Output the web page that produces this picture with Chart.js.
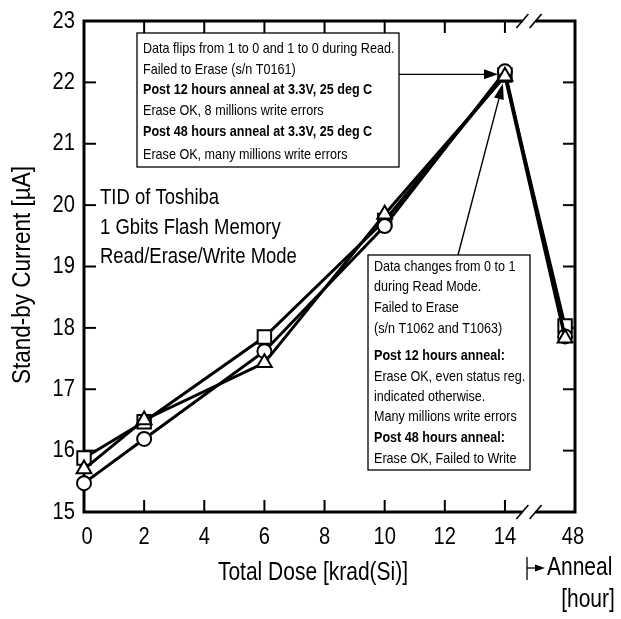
<!DOCTYPE html>
<html>
<head>
<meta charset="utf-8">
<script src="https://cdn.jsdelivr.net/npm/chart.js@4.4.1/dist/chart.umd.min.js"></script>
<style>
  html, body { margin: 0; padding: 0; background: #fff; }
  #wrap { width: 621px; height: 619px; position: relative; }
</style>
</head>
<body>
<div id="wrap"><canvas id="c" width="621" height="619"></canvas></div>
<script>
// ---- data ----
const doseKrad = [0, 2, 6, 10, 14];
const annealHours = [48];
const squareCurrent   = [15.88, 16.47, 17.85, 19.75, 22.12];
const circleCurrent   = [15.47, 16.19, 17.62, 19.66, 22.18];
const triangleCurrent = [15.70, 16.50, 17.43, 19.85, 22.10];
const squareAnneal   = [18.03];
const circleAnneal   = [17.86];
const triangleAnneal = [17.83];
const doseTicks = [0, 2, 4, 6, 8, 10, 12, 14];
const currentTicks = [15, 16, 17, 18, 19, 20, 21, 22, 23];

const box1Lines = [
  ["Data flips from 1 to 0 and 1 to 0 during Read.", false],
  ["Failed to Erase (s/n T0161)", false],
  ["Post 12 hours anneal at 3.3V, 25 deg C", true],
  ["Erase OK, 8 millions write errors", false],
  ["Post 48 hours anneal at 3.3V, 25 deg C", true],
  ["Erase OK, many millions write errors", false]
];
const box2Lines = [
  ["Data changes from 0 to 1", false],
  ["during Read Mode.", false],
  ["Failed to Erase", false],
  ["(s/n T1062 and T1063)", false],
  ["Post 12 hours anneal:", true],
  ["Erase OK, even status reg.", false],
  ["indicated otherwise.", false],
  ["Many millions write errors", false],
  ["Post 48 hours anneal:", true],
  ["Erase OK, Failed to Write", false]
];
const titleLines = ["TID of Toshiba", "1 Gbits Flash Memory", "Read/Erase/Write Mode"];

// ---- layout constants ----
const ANNEAL_X = 16.0;      // position of the anneal point on the broken axis
const X_MAX = 16.33;
const FONT = '"Liberation Sans", Arial, sans-serif';
const NARROW = 0.84;        // horizontal squeeze to mimic a narrow typeface

function ntext(ctx, str, x, y, align, font, sx) {
  ctx.save();
  ctx.font = font;
  ctx.textAlign = align;
  ctx.textBaseline = 'middle';
  ctx.translate(x, y);
  ctx.scale(sx || NARROW, 1);
  ctx.fillText(str, 0, 0);
  ctx.restore();
}

function series(vals, anneal) {
  const pts = doseKrad.map((d, i) => ({ x: d, y: vals[i] }));
  annealHours.forEach((h, i) => pts.push({ x: ANNEAL_X, y: anneal[i] }));
  return pts;
}

function arrow(ctx, x1, y1, x2, y2, lw, hl, hw) {
  const a = Math.atan2(y2 - y1, x2 - x1);
  const bx = x2 - hl * Math.cos(a), by = y2 - hl * Math.sin(a);
  ctx.lineWidth = lw;
  ctx.beginPath(); ctx.moveTo(x1, y1); ctx.lineTo(bx, by); ctx.stroke();
  ctx.beginPath();
  ctx.moveTo(x2, y2);
  ctx.lineTo(bx + hw * Math.sin(a), by - hw * Math.cos(a));
  ctx.lineTo(bx - hw * Math.sin(a), by + hw * Math.cos(a));
  ctx.closePath(); ctx.fill();
}

const framePlugin = {
  id: 'frame',
  beforeDatasetsDraw(chart) {
    const { ctx, chartArea: a, scales } = chart;
    ctx.save();
    ctx.strokeStyle = '#000';
    ctx.fillStyle = '#000';
    ctx.lineWidth = 2;
    // inward ticks
    currentTicks.slice(1, -1).forEach(v => {
      const y = scales.y.getPixelForValue(v);
      ctx.beginPath(); ctx.moveTo(a.left, y); ctx.lineTo(a.left + 12, y); ctx.stroke();
      ctx.beginPath(); ctx.moveTo(a.right, y); ctx.lineTo(a.right - 12, y); ctx.stroke();
    });
    doseTicks.slice(1).forEach(v => {
      const x = scales.x.getPixelForValue(v);
      ctx.beginPath(); ctx.moveTo(x, a.bottom); ctx.lineTo(x, a.bottom - 12); ctx.stroke();
      ctx.beginPath(); ctx.moveTo(x, a.top); ctx.lineTo(x, a.top + 12); ctx.stroke();
    });
    // tick labels
    const tf = '24px ' + FONT;
    currentTicks.forEach(v => ntext(ctx, String(v), a.left - 9, scales.y.getPixelForValue(v), 'right', tf));
    doseTicks.forEach(v => ntext(ctx, String(v), scales.x.getPixelForValue(v) + (v === 0 ? 3 : 0), a.bottom + 25, 'center', tf));
    ntext(ctx, String(annealHours[0]), a.right - 2, a.bottom + 25, 'center', tf);
    // frame
    ctx.lineWidth = 3;
    ctx.strokeRect(a.left, a.top, a.right - a.left, a.bottom - a.top);
    // axis breaks
    const bx1 = scales.x.getPixelForValue(14.58), bx2 = scales.x.getPixelForValue(15.02);
    [a.top, a.bottom].forEach(y => {
      ctx.fillStyle = '#fff';
      ctx.fillRect(bx1, y - 3, bx2 - bx1, 6);
      ctx.strokeStyle = '#000';
      ctx.lineWidth = 1.6;
      [bx1, bx2].forEach(x => {
        ctx.beginPath();
        ctx.moveTo(x - 6, y + 7); ctx.lineTo(x + 6, y - 7); ctx.stroke();
      });
    });
    ctx.restore();
  },
  afterDraw(chart) {
    const { ctx, scales } = chart;
    ctx.save();
    ctx.fillStyle = '#000';
    ctx.strokeStyle = '#000';
    // axis titles
    const af = '25px ' + FONT;
    ntext(ctx, 'Total Dose [krad(Si)]', 313, 573, 'center', af);
    ctx.save();
    ctx.translate(23, 275); ctx.rotate(-Math.PI / 2);
    ntext(ctx, 'Stand-by Current [\u00B5A]', 0, 0, 'center', af, 0.9);
    ctx.restore();
    // anneal label
    ntext(ctx, 'Anneal', 547, 568, 'left', af);
    ntext(ctx, '[hour]', 588, 600, 'center', af);
    ctx.lineWidth = 1.3;
    ctx.beginPath(); ctx.moveTo(527, 557); ctx.lineTo(527, 580); ctx.stroke();
    arrow(ctx, 527, 568, 545, 568, 1.3, 10, 3.5);
    // title
    titleLines.forEach((t, i) => ntext(ctx, t, 100, 198 + i * 29.5, 'left', '22px ' + FONT));
    // boxes
    const drawBox = (x, y, w, h, lines, ys) => {
      ctx.fillStyle = '#fff';
      ctx.fillRect(x, y, w, h);
      ctx.fillStyle = '#000';
      ctx.lineWidth = 1.3;
      ctx.strokeRect(x, y, w, h);
      lines.forEach((l, i) => ntext(ctx, l[0], x + 6, ys[i], 'left', (l[1] ? 'bold ' : '') + '15px ' + FONT));
    };
    drawBox(137, 33, 262, 134, box1Lines, [49, 70, 90, 111, 132, 155]);
    drawBox(368, 255, 162, 215, box2Lines, [267, 287, 308, 329, 356, 377, 397, 417, 438, 459]);
    // arrows to the 14 krad point
    const px = scales.x.getPixelForValue(14);
    const py = scales.y.getPixelForValue(circleCurrent[4]);
    arrow(ctx, 399, py + 3, px - 7, py + 3, 1.4, 14, 5);
    arrow(ctx, 458, 255, px - 2, py + 12, 1.4, 16, 5);
    ctx.restore();
  }
};

const common = {
  showLine: true,
  clip: false,
  borderColor: '#000',
  borderWidth: 3,
  pointBackgroundColor: '#fff',
  pointBorderColor: '#000',
  pointBorderWidth: 2,
  tension: 0
};

new Chart(document.getElementById('c'), {
  type: 'scatter',
  data: {
    datasets: [
      Object.assign({ label: 'square', data: series(squareCurrent, squareAnneal), pointStyle: 'rect', pointRadius: 9.5, order: 3 }, common),
      Object.assign({ label: 'circle', data: series(circleCurrent, circleAnneal), pointStyle: 'circle', pointRadius: 7, order: 2 }, common),
      Object.assign({ label: 'triangle', data: series(triangleCurrent, triangleAnneal), pointStyle: 'triangle', pointRadius: 8.5, order: 1 }, common)
    ]
  },
  options: {
    responsive: false,
    animation: false,
    devicePixelRatio: 1,
    layout: { padding: { left: 0, top: 21, right: 46, bottom: 0 } },
    plugins: { legend: { display: false }, tooltip: { enabled: false } },
    scales: {
      x: {
        type: 'linear', min: 0, max: X_MAX,
        afterFit(s) { s.height = 107; },
        ticks: { display: false },
        grid: { display: false, drawTicks: false },
        border: { display: false }
      },
      y: {
        type: 'linear', min: 15, max: 23,
        afterFit(s) { s.width = 84; },
        ticks: { display: false },
        grid: { display: false, drawTicks: false },
        border: { display: false }
      }
    }
  },
  plugins: [framePlugin]
});
</script>
</body>
</html>
